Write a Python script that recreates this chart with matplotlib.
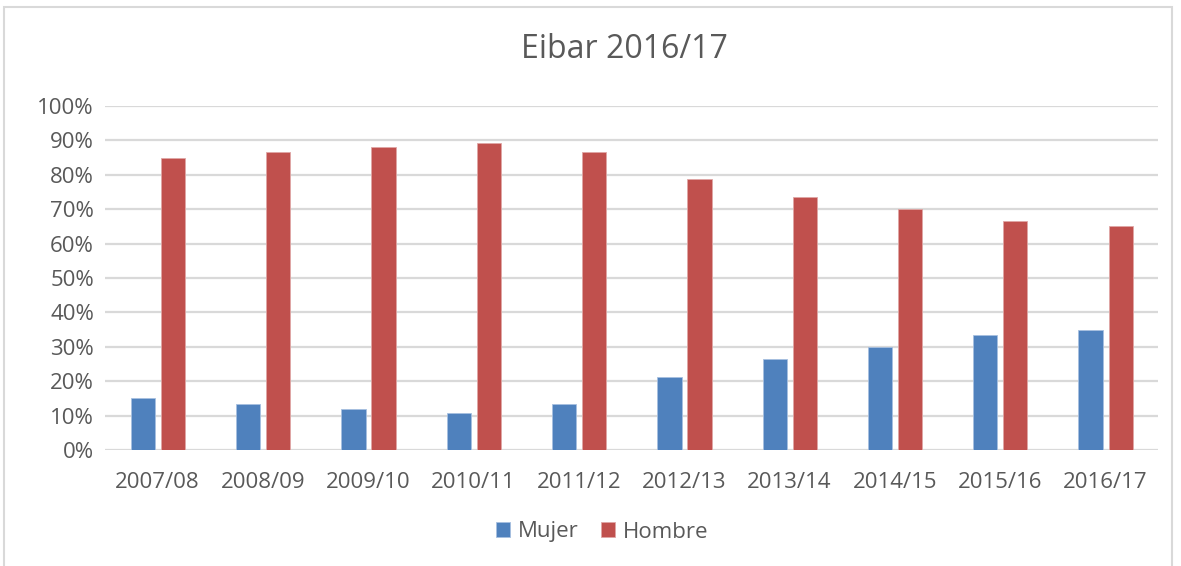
import numpy as np
import matplotlib.pyplot as plt
from matplotlib.patches import Rectangle

plt.rcParams['font.family'] = ['Open Sans', 'DejaVu Sans']

seasons = ['2007/08', '2008/09', '2009/10', '2010/11', '2011/12',
           '2012/13', '2013/14', '2014/15', '2015/16', '2016/17']
mujer = [15.1, 13.4, 11.9, 10.9, 13.4, 21.3, 26.4, 29.9, 33.4, 34.9]
hombre = [84.9, 86.6, 88.1, 89.1, 86.6, 78.7, 73.6, 70.1, 66.6, 65.1]

blue = '#4f81bd'
red = '#c0504d'
text_color = '#595959'

fig = plt.figure(figsize=(11.81, 5.66), dpi=100)
ax = fig.add_axes([105 / 1181, 1 - 450 / 566, (1158 - 105) / 1181, (450 - 106) / 566])

x = np.arange(len(seasons))
w = 0.23
ax.bar(x - 0.14, mujer, w, color=blue, edgecolor='#a7c0e0', linewidth=0.6, label='Mujer', zorder=3)
ax.bar(x + 0.145, hombre, w, color=red, edgecolor='#e0a6a5', linewidth=0.6, label='Hombre', zorder=3)

ax.set_xlim(-0.5, len(seasons) - 0.5)
ax.set_ylim(0, 100)
ax.set_yticks(np.arange(0, 101, 10))
ax.set_yticklabels([f'{v}%' for v in range(0, 101, 10)])
ax.set_xticks(x)
ax.set_xticklabels(seasons)
ax.yaxis.grid(True, color='#d9d9d9', linewidth=1.6, zorder=0)
ax.set_axisbelow(True)
for s in ax.spines.values():
    s.set_visible(False)
ax.tick_params(axis='both', length=0, labelsize=16, colors=text_color)
ax.tick_params(axis='x', pad=16)
ax.tick_params(axis='y', pad=8)

fig.text(624 / 1181, 1 - 50 / 566, 'Eibar 2016/17', ha='center', va='center',
         fontsize=23, color=text_color)

fig.legend(loc='center', bbox_to_anchor=(602 / 1181, 1 - 532 / 566), ncol=2, frameon=False,
           fontsize=16, handlelength=0.65, handleheight=0.65, handletextpad=0.35,
           columnspacing=1.0, labelcolor=text_color)

fig.patches.append(Rectangle((4 / 1181, -0.01), (1172 - 4) / 1181, 1 - 7 / 566 + 0.01,
                             transform=fig.transFigure, fill=False,
                             edgecolor='#d9d9d9', linewidth=1.5))

fig.savefig('out.png', dpi=100)
